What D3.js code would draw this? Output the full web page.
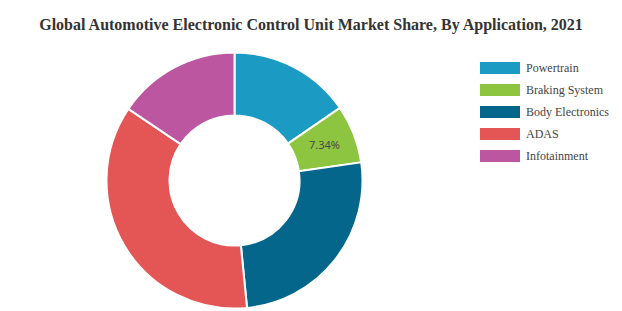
<!DOCTYPE html>
<html lang="en">
<head>
	<meta charset="utf-8" />
	<title>ECU Market Share</title>
	<style>
		body { margin: 0; padding: 0; background: #fff; }
	</style>
	<script src="https://d3js.org/d3.v7.min.js"></script>
</head>
<body>
	<div id="chart"></div>
	<script>
	const categories = ["Powertrain", "Braking System", "Body Electronics", "ADAS", "Infotainment"];
	const shares = [15.4, 7.34, 25.7, 36.0, 15.56];
	const colors = ["#1b9ac3", "#8dc540", "#05668c", "#e45555", "#bc56a0"];
	const shownLabels = ["Braking System"]; // only this slice has its value printed

	const width = 622, height = 311;
	const svg = d3.select("#chart").append("svg")
		.attr("width", width)
		.attr("height", height);

	svg.append("text")
		.attr("x", 311)
		.attr("y", 30)
		.attr("text-anchor", "middle")
		.style("font", "bold 16px 'Liberation Serif', 'Times New Roman', serif")
		.style("fill", "#333")
		.text("Global Automotive Electronic Control Unit Market Share, By Application, 2021");

	const data = categories.map((c, i) => ({ name: c, value: shares[i] }));
	const color = d3.scaleOrdinal().domain(categories).range(colors);

	const pie = d3.pie().value(d => d.value).sort(null);
	const arc = d3.arc().innerRadius(65).outerRadius(128);

	const g = svg.append("g").attr("transform", "translate(234.5,180.5)");
	const slices = g.selectAll("g.slice")
		.data(pie(data))
		.enter().append("g")
		.attr("class", "slice");

	slices.append("path")
		.attr("d", arc)
		.style("fill", d => color(d.data.name))
		.style("stroke", "#fff")
		.style("stroke-width", 2);

	slices.filter(d => shownLabels.includes(d.data.name))
		.append("text")
		.attr("transform", d => "translate(" + arc.centroid(d) + ")")
		.attr("text-anchor", "middle")
		.attr("dy", "0.35em")
		.style("font", "11px 'Open Sans', 'Noto Sans', sans-serif")
		.style("fill", "#444")
		.text(d => d.data.value.toFixed(2) + "%");

	// legend
	const legend = svg.append("g").attr("transform", "translate(480,62)");
	const items = legend.selectAll("g")
		.data(categories)
		.enter().append("g")
		.attr("transform", (d, i) => "translate(0," + i * 22 + ")");
	items.append("rect")
		.attr("width", 40)
		.attr("height", 12)
		.style("fill", d => color(d));
	items.append("text")
		.attr("x", 46)
		.attr("y", 10)
		.style("font", "12px 'Liberation Serif', 'Times New Roman', serif")
		.style("fill", "#444")
		.text(d => d);
	</script>
</body>
</html>
